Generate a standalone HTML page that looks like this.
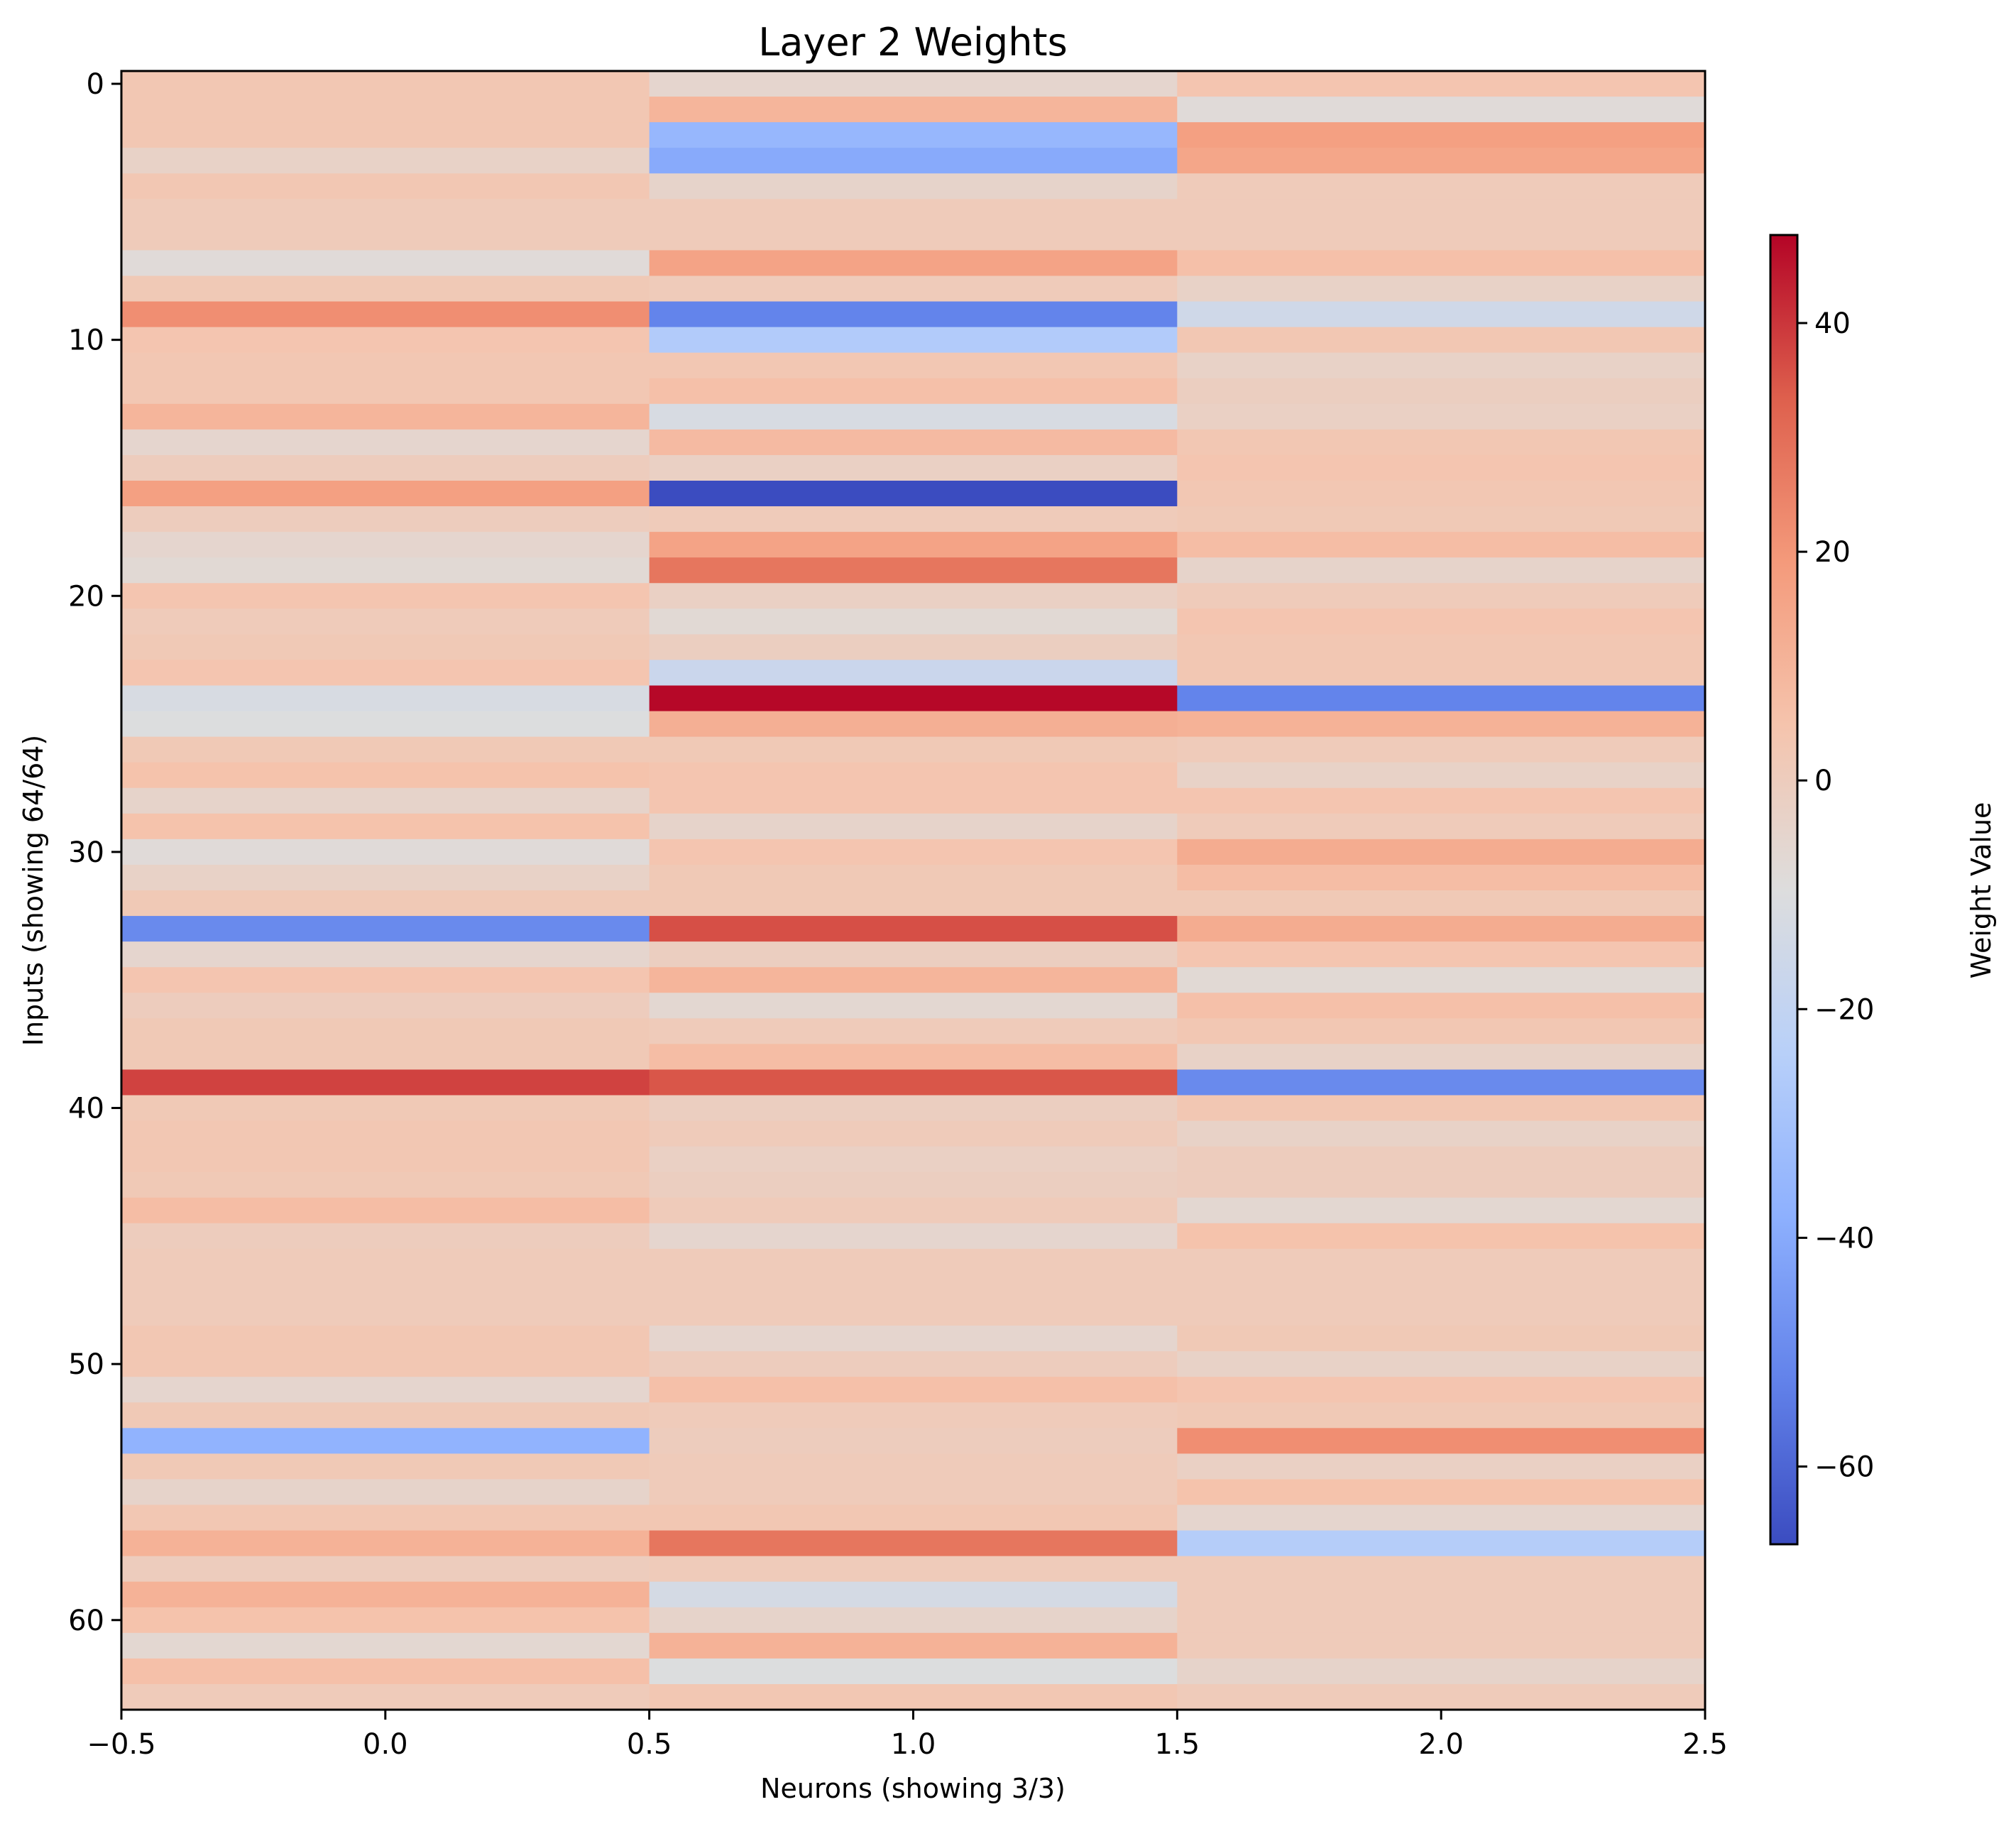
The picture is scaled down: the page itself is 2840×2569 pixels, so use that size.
<!DOCTYPE html>
<html><head><meta charset="utf-8"><style>
html,body{margin:0;padding:0;background:#fff;}
svg{display:block;font-family:"DejaVu Sans","Liberation Sans",sans-serif;}
</style></head><body>
<svg id="chart" width="2840" height="2569" viewBox="0 0 2840 2569" xmlns="http://www.w3.org/2000/svg">
<defs>
<linearGradient id="cw" x1="0" y1="1" x2="0" y2="0">
<stop offset="0" stop-color="rgb(59,76,192)"/><stop offset="0.125" stop-color="rgb(98,130,234)"/>
<stop offset="0.25" stop-color="rgb(141,176,254)"/><stop offset="0.375" stop-color="rgb(184,208,249)"/>
<stop offset="0.5" stop-color="rgb(221,221,221)"/><stop offset="0.625" stop-color="rgb(245,196,173)"/>
<stop offset="0.75" stop-color="rgb(244,154,123)"/><stop offset="0.875" stop-color="rgb(222,96,77)"/>
<stop offset="1" stop-color="rgb(180,4,38)"/>
</linearGradient>
</defs>
<g id="cells"></g>
<rect x="171" y="100" width="2231" height="2308" fill="none" stroke="#000" stroke-width="3"/>
<g id="axes"></g>
<text x="1286" y="78" font-size="54" text-anchor="middle">Layer 2 Weights</text>
<text x="1286" y="2532" font-size="38" text-anchor="middle">Neurons (showing 3/3)</text>
<text transform="translate(60,1254) rotate(-90)" font-size="38" text-anchor="middle">Inputs (showing 64/64)</text>
<rect x="2494" y="331" width="38" height="1844" fill="url(#cw)" stroke="#000" stroke-width="3"/>
<g id="cbticks"></g>
<text transform="translate(2804,1254) rotate(-90)" font-size="38" text-anchor="middle">Weight Value</text>
</svg>
<script>
const neuron0 = [3,3,3,-3,3,1,1,-8,2,22,4,3,3,10,-5,0,17,0,-5,-7,4,1,2,4,-12,-10,2,5,-4,5,-8,-3,2,-50,-5,4,0,2,2,38,2,3,3,2,7,0,1,1,1,3,3,-5,2,-37,2,-4,3,11,0,11,5,-6,6,1];
const neuron1 = [-5,10,-35,-40,-4,1,1,16,1,-52,-26,3,6,-12,8,-2,-67,1,16,28,-2,-7,-1,-17,47,12,2,4,4,-4,4,2,2,36,-1,10,-6,1,7,35,-1,1,-2,-1,1,-5,1,1,1,-5,0,6,1,0,1,1,3,28,1,-13,-4,11,-10,3];
const neuron2 = [4,-8,17,15,1,1,1,6,-3,-15,3,-3,-1,-2,3,4,3,2,7,-4,1,4,3,3,-52,11,1,-3,4,1,13,7,2,13,4,-7,6,3,-3,-50,3,-3,0,0,-6,5,1,1,1,2,-3,4,2,22,-2,5,-5,-25,1,1,1,1,-4,1];
const xTicks = [-0.5,0,0.5,1,1.5,2,2.5];
const xTickLabels = ["\u22120.5","0.0","0.5","1.0","1.5","2.0","2.5"];
const yTicks = [0,10,20,30,40,50,60];
const cbTicks = [-60,-40,-20,0,20,40];
const vmin = -66.8, vmax = 47.7;

const NS="http://www.w3.org/2000/svg";
const L=171,R=2402,T=100,B=2408;
const CT=331,CB=2175;
const xs=v=>L+(v+0.5)/3*(R-L);
const ys=v=>T+(v+0.5)/64*(B-T);
const cbY=v=>CB-(v-vmin)/(vmax-vmin)*(CB-CT);
const stops=[[59,76,192],[98,130,234],[141,176,254],[184,208,249],[221,221,221],[245,196,173],[244,154,123],[222,96,77],[180,4,38]];
function cmap(v){let t=(v-vmin)/(vmax-vmin);t=Math.max(0,Math.min(1,t))*8;const i=Math.min(7,Math.floor(t)),f=t-i;const a=stops[i],b=stops[i+1];return `rgb(${a.map((c,k)=>Math.round(c+(b[k]-c)*f)).join(',')})`;}
function mk(tag,attrs,parent){const e=document.createElementNS(NS,tag);for(const k in attrs)e.setAttribute(k,attrs[k]);parent.appendChild(e);return e;}
const cells=document.getElementById('cells');
[neuron0,neuron1,neuron2].forEach((col,c)=>{col.forEach((v,r)=>{
 const e=mk('rect',{x:xs(c-0.5),y:ys(r-0.5),width:xs(c+0.5)-xs(c-0.5)+0.5,height:ys(r+0.5)-ys(r-0.5)+0.5,fill:cmap(v)},cells);
 
 
});});
const axes=document.getElementById('axes');
xTicks.forEach((v,i)=>{
 const l=mk('line',{x1:xs(v),x2:xs(v),y1:B,y2:B+14,stroke:'#000','stroke-width':3},axes);
 
 
 const t=mk('text',{x:xs(v),y:2470,'font-size':40,'text-anchor':'middle'},axes);t.textContent=xTickLabels[i];
 
 
});
yTicks.forEach(v=>{
 const l=mk('line',{x1:L-14,x2:L,y1:ys(v),y2:ys(v),stroke:'#000','stroke-width':3},axes);
 
 
 const t=mk('text',{x:L-24,y:ys(v)+14,'font-size':40,'text-anchor':'end'},axes);t.textContent=String(v);
 
 
});
const cbt=document.getElementById('cbticks');
cbTicks.forEach(v=>{
 const l=mk('line',{x1:2532,x2:2546,y1:cbY(v),y2:cbY(v),stroke:'#000','stroke-width':3},cbt);
 
 
 const t=mk('text',{x:2556,y:cbY(v)+14,'font-size':40},cbt);t.textContent=v<0?'\u2212'+Math.abs(v):String(v);
 
 
});
</script>
</body></html>
